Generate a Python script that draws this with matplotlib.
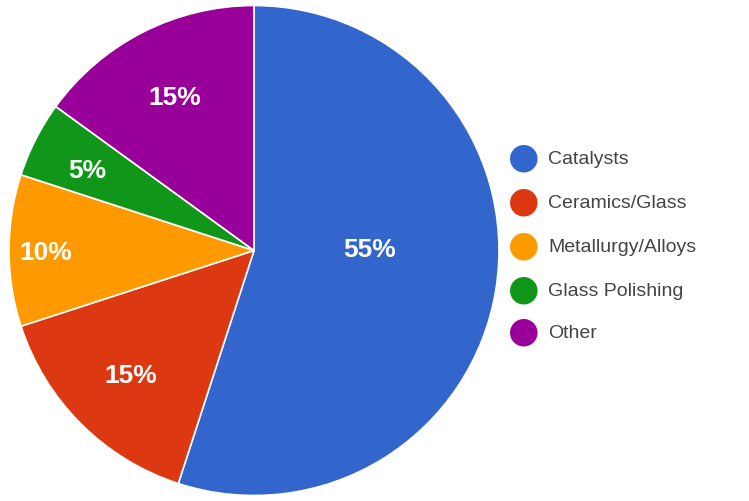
import numpy as np
import matplotlib
matplotlib.use("Agg")
import matplotlib.pyplot as plt

# ── Data ─────────────────────────────────────────────────────────────────────
categories = ["Catalysts", "Ceramics/Glass", "Metallurgy/Alloys",
              "Glass Polishing", "Other"]
shares = [55, 15, 10, 5, 15]
colors = ["#3366CC", "#DC3912", "#FF9900", "#109618", "#990099"]

# label placement per slice: distance (fraction of radius), angle tweak (deg)
label_dist = [0.47, 0.71, 0.85, 0.76, 0.71]
label_turn = [10.5, 0, 0, 0.8, 0]

W, H = 749, 501
fig = plt.figure(figsize=(W / 100, H / 100), dpi=100)
ax = fig.add_axes([9 / W, 5 / H, 490 / W, 491 / H])

wedges, _ = ax.pie(shares, colors=colors, startangle=90, counterclock=False,
                   radius=1.0,
                   wedgeprops=dict(edgecolor="white", linewidth=1.2))
ax.set_aspect("equal")
ax.set_xlim(-1.0, 1.0)
ax.set_ylim(-1.0, 1.0)

for w, d, t, v in zip(wedges, label_dist, label_turn, shares):
    ang = np.deg2rad((w.theta1 + w.theta2) / 2 + t)
    ax.text(d * np.cos(ang), d * np.sin(ang), f"{v}%", color="white",
            fontsize=19, fontweight="bold", ha="center",
            va="center_baseline", family="Liberation Sans")

# ── Legend ───────────────────────────────────────────────────────────────────
ys = [158, 202, 245, 289, 331]
for name, c, y in zip(categories, colors, ys):
    fig.text(524 / W, 1 - y / H, "\u25CF", color=c, fontsize=26,
             ha="center", va="center", family="DejaVu Sans")
    fig.text(548 / W, 1 - y / H, name, color="#444444", fontsize=14,
             ha="left", va="center_baseline", family="Liberation Sans")

fig.savefig("out.png", dpi=100)
